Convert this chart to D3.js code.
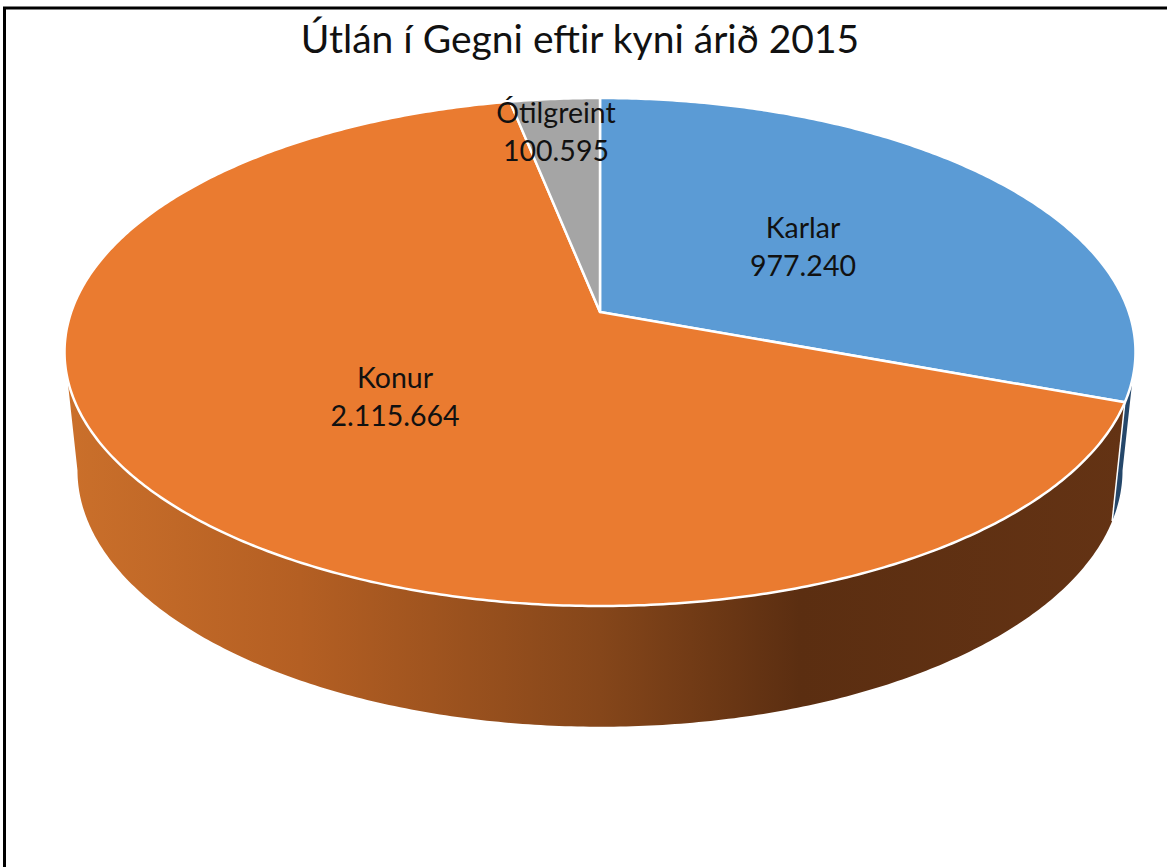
<!DOCTYPE html>
<html>
<head>
<meta charset="utf-8">
<script src="https://cdn.jsdelivr.net/npm/d3@7"></script>
<style>
  html, body { margin: 0; padding: 0; background: #fff; }
  svg { display: block; }
  text { font-family: Lato, "Open Sans", sans-serif; fill: #111; }
</style>
</head>
<body>
<div id="chart"></div>
<script>
const chartTitle = "Útlán í Gegni eftir kyni árið 2015";
const categories = ["Karlar", "Konur", "Ótilgreint"];
const loans = [977240, 2115664, 100595];
const topColors = ["#5b9bd5", "#ea7b30", "#a5a5a5"];

const width = 1167, height = 867;

// perspective "camera" fitted to the picture: top disc and bottom disc of the pie
const tilt = 0.1575;
const topDisc = { cx: 600, cy: 312, rx: 528.8, ry: 247.7 };
const bottomDisc = { cx: 600, cy: 430, rx: 516, ry: 250 };

const TAU = 2 * Math.PI;
const silhouette = Math.acos(-tilt); // angle where the side wall starts to show

const project = (disc, a) => {
    const u = Math.sin(a), v = -Math.cos(a), w = 1 - tilt * v;
    return [disc.cx + disc.rx * u / w, disc.cy + disc.ry * v / w];
};
const arcPoints = (disc, a0, a1) => {
    const n = Math.max(2, Math.ceil(Math.abs(a1 - a0) / 0.01));
    return d3.range(n + 1).map(i => project(disc, a0 + (a1 - a0) * i / n));
};
const line = d3.line();

const slices = d3.pie().sort(null).value(d => d)(loans);
const fmt = d3.formatLocale({ decimal: ",", thousands: ".", grouping: [3], currency: ["", ""] }).format(",d");

const svg = d3.select("#chart").append("svg")
    .attr("width", width)
    .attr("height", height);

// frame, only top and left are inside the crop
svg.append("path")
    .attr("d", `M4.5,${height} V8 H${width}`)
    .attr("fill", "none")
    .attr("stroke", "#000")
    .attr("stroke-width", 3);

// shading of the front wall runs left to right
const wallShade = d3.scaleLinear()
    .domain([60, 300, 600, 800, 1130])
    .range(["#cb702b", "#b45f23", "#85461a", "#5b2e11", "#643314"]);
const grad = svg.append("defs").append("linearGradient")
    .attr("id", "wall")
    .attr("gradientUnits", "userSpaceOnUse")
    .attr("x1", 60).attr("x2", 1130).attr("y1", 0).attr("y2", 0);
wallShade.domain().forEach(x => {
    grad.append("stop")
        .attr("offset", (x - 60) / (1130 - 60))
        .attr("stop-color", wallShade(x));
});

const karlarEnd = slices[0].endAngle;
const konurEnd = slices[1].endAngle;
const wallEnd = TAU - silhouette;

// walls: thin Karlar sliver, then the big Konur wall
const wallPath = (a0, a1) => line(arcPoints(topDisc, a0, a1).concat(arcPoints(bottomDisc, a1, a0))) + "Z";
svg.append("path").attr("d", wallPath(silhouette, karlarEnd)).attr("fill", "#25476a");
svg.append("path").attr("d", wallPath(karlarEnd, Math.min(wallEnd, konurEnd))).attr("fill", "url(#wall)");
svg.append("path")
    .attr("d", line([project(topDisc, karlarEnd), project(bottomDisc, karlarEnd)]))
    .attr("stroke", "#fff").attr("stroke-width", 1.5);

// top face
svg.selectAll(".slice")
    .data(slices)
    .enter().append("path")
    .attr("class", "slice")
    .attr("d", d => line([[topDisc.cx, topDisc.cy]].concat(arcPoints(topDisc, d.startAngle, d.endAngle))) + "Z")
    .attr("fill", (d, i) => topColors[i])
    .attr("stroke", "#fff")
    .attr("stroke-width", 2.5)
    .attr("stroke-linejoin", "round");

svg.append("text")
    .attr("x", 580)
    .attr("y", 53)
    .attr("text-anchor", "middle")
    .attr("font-size", 39)
    .text(chartTitle);

// label anchor points
const labelX = [803, 395, 556];
const labelY = [238, 388, 123];
categories.forEach((c, i) => {
    const g = svg.append("text")
        .attr("text-anchor", "middle")
        .attr("font-size", 28.5);
    g.append("tspan").attr("x", labelX[i]).attr("y", labelY[i]).text(c);
    g.append("tspan").attr("x", labelX[i]).attr("y", labelY[i] + 38).text(fmt(loans[i]));
});
</script>
</body>
</html>
